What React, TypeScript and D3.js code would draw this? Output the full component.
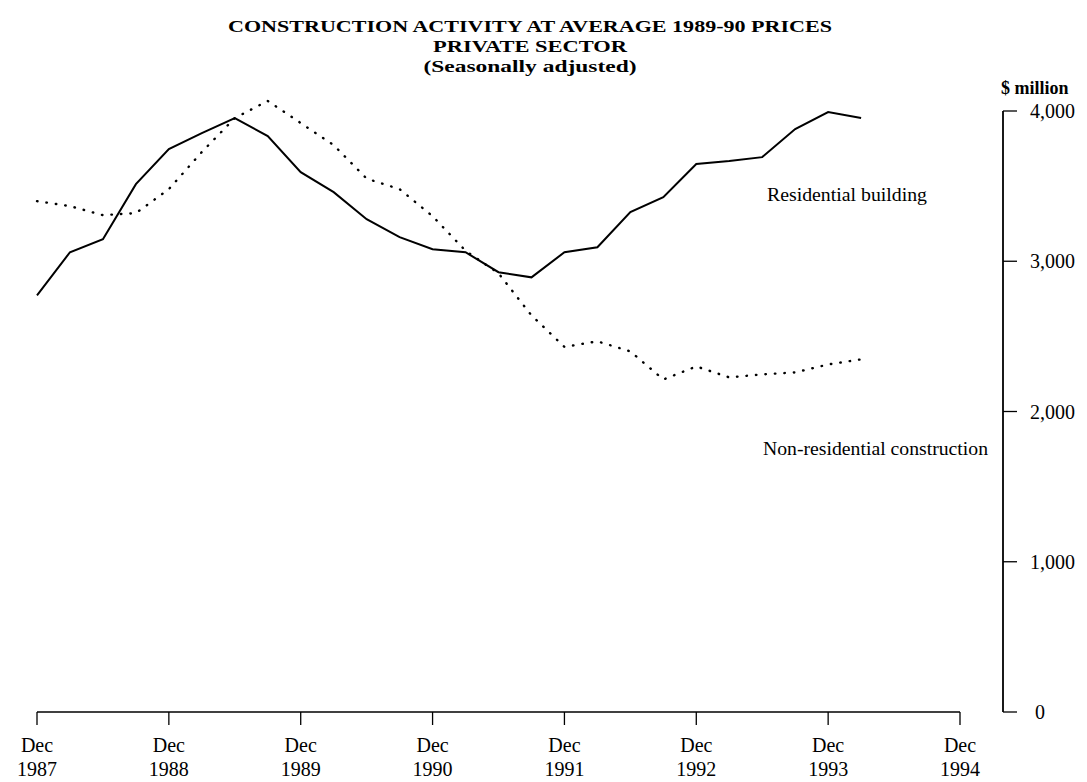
import React from 'react';
import * as d3 from 'd3';

// quarterly observations, Dec 1987 .. Mar 1994
const quarters = [
  'Dec 1987', 'Mar 1988', 'Jun 1988', 'Sep 1988', 'Dec 1988', 'Mar 1989', 'Jun 1989', 'Sep 1989',
  'Dec 1989', 'Mar 1990', 'Jun 1990', 'Sep 1990', 'Dec 1990', 'Mar 1991', 'Jun 1991', 'Sep 1991',
  'Dec 1991', 'Mar 1992', 'Jun 1992', 'Sep 1992', 'Dec 1992', 'Mar 1993', 'Jun 1993', 'Sep 1993',
  'Dec 1993', 'Mar 1994',
];

const residential = [
  2773, 3060, 3147, 3513, 3747, 3853, 3953, 3833,
  3593, 3460, 3280, 3160, 3080, 3060, 2927, 2893,
  3060, 3093, 3327, 3427, 3647, 3667, 3693, 3880,
  3993, 3953,
];

const nonResidential = [
  3400, 3367, 3307, 3320, 3480, 3727, 3953, 4067,
  3920, 3773, 3550, 3480, 3300, 3070, 2920, 2640,
  2430, 2467, 2400, 2213, 2300, 2227, 2247, 2260,
  2313, 2347,
];

const yearTicks = ['1987', '1988', '1989', '1990', '1991', '1992', '1993', '1994'];
const valueTicks = [0, 1000, 2000, 3000, 4000];

const W = 1087;
const H = 782;

export default function App() {
  const x = d3.scaleLinear().domain([0, 28]).range([37, 960]);
  const y = d3.scaleLinear().domain([0, 4000]).range([712, 111]);
  const fmt = d3.format(',');

  const line = d3.line<number>()
    .x((_, i) => x(i))
    .y(d => y(d));

  const font = '"Liberation Serif", "Times New Roman", serif';
  const axisX = 1003;

  return (
    <svg width={W} height={H} style={{ position: 'absolute', left: 0, top: 0, background: '#fff' }}
      fontFamily={font}>
      <g textAnchor="middle" fontWeight="bold" fontSize={17}>
        <text x={530} y={32} textLength={604} lengthAdjust="spacingAndGlyphs">CONSTRUCTION ACTIVITY AT AVERAGE 1989-90 PRICES</text>
        <text x={530} y={52} textLength={194} lengthAdjust="spacingAndGlyphs">PRIVATE SECTOR</text>
        <text x={530} y={72} textLength={213} lengthAdjust="spacingAndGlyphs">(Seasonally adjusted)</text>
      </g>

      {/* bottom axis */}
      <line x1={x(0)} x2={x(28)} y1={y(0)} y2={y(0)} stroke="#000" strokeWidth={1.3} />
      {yearTicks.map((yr, i) => (
        <g key={yr} transform={`translate(${x(i * 4)},0)`}>
          <line y1={y(0)} y2={y(0) + 13} stroke="#000" strokeWidth={1.3} />
          <text y={752} textAnchor="middle" fontSize={20}>Dec</text>
          <text y={776} textAnchor="middle" fontSize={20}>{yr}</text>
        </g>
      ))}

      {/* right axis */}
      <line x1={axisX} x2={axisX} y1={y(4000)} y2={y(0)} stroke="#000" strokeWidth={1.8} />
      {valueTicks.map(v => (
        <g key={v} transform={`translate(${axisX},${y(v)})`}>
          <line x1={0} x2={14} stroke="#000" strokeWidth={1.3} />
          <text x={v === 0 ? 32 : 27} dy="0.35em" fontSize={20}>{fmt(v)}</text>
        </g>
      ))}
      <text x={1001} y={94} fontSize={18} fontWeight="bold">$ million</text>

      <path d={line(nonResidential) || ''} fill="none" stroke="#000" strokeWidth={2.4}
        strokeDasharray="0.5,9" strokeLinecap="round" />
      <path d={line(residential) || ''} fill="none" stroke="#000" strokeWidth={2} />

      <text x={767} y={201} fontSize={18} textLength={160} lengthAdjust="spacingAndGlyphs">Residential building</text>
      <text x={763} y={455} fontSize={18} textLength={225} lengthAdjust="spacingAndGlyphs">Non-residential construction</text>
    </svg>
  );
}
